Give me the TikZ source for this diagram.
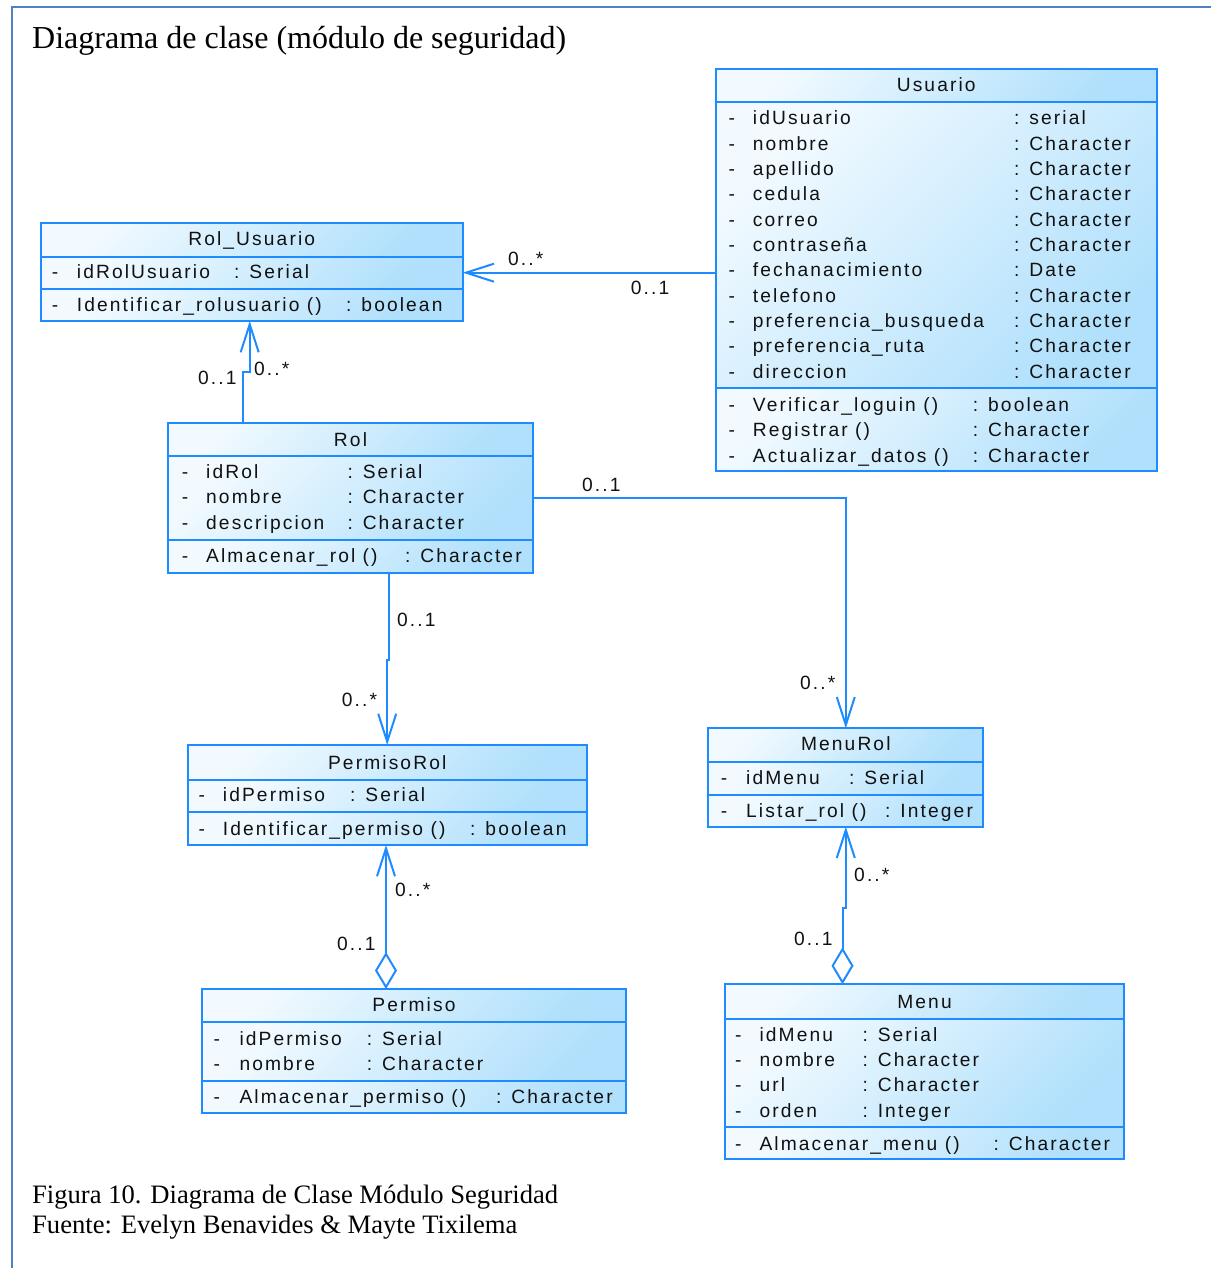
\documentclass[tikz,border=0pt]{standalone}
\usepackage{fontspec}
\setmainfont{Liberation Serif}
\newfontfamily\umlfont[LetterSpace=11]{Liberation Sans}
\usetikzlibrary{arrows.meta,calc,fit}
\definecolor{umlblue}{RGB}{30,140,255}
\definecolor{umlA}{RGB}{242,250,255}
\definecolor{umlB}{RGB}{176,224,252}
\definecolor{umltext}{RGB}{17,17,17}
\definecolor{frameblue}{RGB}{79,129,200}
\tikzset{
  umlframe/.style={draw=umlblue, line width=2pt, inner sep=0pt, outer sep=0pt},
  compart/.style={left color=umlA, right color=umlB, shading angle=45},
  txt/.style={inner sep=0pt, anchor=base west, font=\umlfont\fontsize{19.2}{19.2}\selectfont, text=umltext},
  hdr/.style={txt, anchor=base},
  mult/.style={txt},
  captxt/.style={inner sep=0pt, anchor=base west, text=black},
  conn/.style={draw=umlblue, line width=2pt, -{Straight Barb[length=28pt,width=18pt]}},
  aggr/.style={draw=umlblue, line width=2pt, {Diamond[fill=white,length=37pt,width=22pt]}-{Straight Barb[length=28pt,width=18pt]}},
}
\newcommand\UMLclass[7]{%
  \shade[compart] (#2,#3) rectangle (#4,#6);
  \shade[compart] (#2,#6) rectangle (#4,#7);
  \shade[compart] (#2,#7) rectangle (#4,#5);
  \draw[umlblue, line width=2pt] (#2,#6) -- (#4,#6) (#2,#7) -- (#4,#7);
  \node[umlframe, fit={(#2,#3) (#4,#5)}] (#1) {};
}
\begin{document}
\begin{tikzpicture}[x=1pt,y=-1pt]
\useasboundingbox (0,0) rectangle (1211,1268);
% outer frame
\draw[frameblue, line width=2.5pt] (12,1268) -- (12,7.2) -- (1211,7.2);

% titles
\node[captxt, font=\fontsize{32}{32}\selectfont] (title) at (32,48.5) {Diagrama de clase (módulo de seguridad)};
\node[captxt, font=\fontsize{26.6}{26.6}\selectfont] (cap1) at (32,1203.5) {Figura 10. Diagrama de Clase Módulo Seguridad};
\node[captxt, font=\fontsize{26.6}{26.6}\selectfont] (cap2) at (32,1233.5) {Fuente: Evelyn Benavides \& Mayte Tixilema};

% ---------------- Usuario
\UMLclass{usuario}{715.7}{69.3}{1156.7}{471}{102}{388}
\node[hdr] (usuH) at (936.2,92) {Usuario};
\foreach \n/\t [count=\i from 0] in {idUsuario/serial, nombre/Character, apellido/Character, cedula/Character, correo/Character, contraseña/Character, fechanacimiento/Date, telefono/Character, preferencia\_busqueda/Character, preferencia\_ruta/Character, direccion/Character}{
  \node[txt] (usuD\i) at (728.3,125+25.3*\i) {-};
  \node[txt] (usuN\i) at (752.7,125+25.3*\i) {\n};
  \node[txt] (usuT\i) at (1014,125+25.3*\i) {: \t};
}
\foreach \n/\t [count=\i from 0] in {Verificar\_loguin ()/boolean, Registrar ()/Character, Actualizar\_datos ()/Character}{
  \node[txt] (usuMD\i) at (728.3,411.7+25.2*\i) {-};
  \node[txt] (usuMN\i) at (752.7,411.7+25.2*\i) {\n};
  \node[txt] (usuMT\i) at (972.7,411.7+25.2*\i) {: \t};
}

% ---------------- Rol_Usuario
\UMLclass{rolu}{40.7}{222.7}{462.7}{321}{256.7}{289.3}
\node[hdr] (roluH) at (251.7,245.7) {Rol\_Usuario};
\node[txt] (roluD) at (51.7,278.3) {-};
\node[txt] (roluN) at (76.7,278.3) {idRolUsuario};
\node[txt] (roluT) at (234,278.3) {: Serial};
\node[txt] (roluMD) at (51.7,311) {-};
\node[txt] (roluMN) at (76.7,311) {Identificar\_rolusuario ()};
\node[txt] (roluMT) at (346,311) {: boolean};

% ---------------- Rol
\UMLclass{rol}{168.3}{423.3}{532.7}{572.7}{456}{540}
\node[hdr] (rolH) at (350.5,446) {Rol};
\foreach \n/\t [count=\i from 0] in {idRol/Serial, nombre/Character, descripcion/Character}{
  \node[txt] (rolD\i) at (181.7,478.3+25.5*\i) {-};
  \node[txt] (rolN\i) at (206,478.3+25.5*\i) {\n};
  \node[txt] (rolT\i) at (347.3,478.3+25.5*\i) {: \t};
}
\node[txt] (rolMD) at (181.7,562.7) {-};
\node[txt] (rolMN) at (206,562.7) {Almacenar\_rol ()};
\node[txt] (rolMT) at (405,562.7) {: Character};

% ---------------- PermisoRol
\UMLclass{permrol}{187.7}{745}{586.7}{845}{780}{812.3}
\node[hdr] (permrolH) at (387.2,769.3) {PermisoRol};
\node[txt] (permrolD) at (198.3,801.7) {-};
\node[txt] (permrolN) at (222.7,801.7) {idPermiso};
\node[txt] (permrolT) at (350,801.7) {: Serial};
\node[txt] (permrolMD) at (198.3,835) {-};
\node[txt] (permrolMN) at (222.7,835) {Identificar\_permiso ()};
\node[txt] (permrolMT) at (470,835) {: boolean};

% ---------------- MenuRol
\UMLclass{menurol}{708.3}{728.3}{983.3}{826.7}{761.7}{795}
\node[hdr] (menurolH) at (845.8,750.7) {MenuRol};
\node[txt] (menurolD) at (720.7,784) {-};
\node[txt] (menurolN) at (746,784) {idMenu};
\node[txt] (menurolT) at (849,784) {: Serial};
\node[txt] (menurolMD) at (720.7,817.3) {-};
\node[txt] (menurolMN) at (746,817.3) {Listar\_rol ()};
\node[txt] (menurolMT) at (885,817.3) {: Integer};

% ---------------- Permiso
\UMLclass{perm}{201.7}{989}{626}{1112.7}{1022.3}{1080.7}
\node[hdr] (permH) at (413.9,1011.7) {Permiso};
\foreach \n/\t [count=\i from 0] in {idPermiso/Serial, nombre/Character}{
  \node[txt] (permD\i) at (213.3,1045+25*\i) {-};
  \node[txt] (permN\i) at (239.3,1045+25*\i) {\n};
  \node[txt] (permT\i) at (366.7,1045+25*\i) {: \t};
}
\node[txt] (permMD) at (213.3,1103.3) {-};
\node[txt] (permMN) at (239.3,1103.3) {Almacenar\_permiso ()};
\node[txt] (permMT) at (496,1103.3) {: Character};

% ---------------- Menu
\UMLclass{menu}{725}{984.3}{1124}{1159.3}{1019}{1127.3}
\node[hdr] (menuH) at (924.5,1008.3) {Menu};
\foreach \n/\t [count=\i from 0] in {idMenu/Serial, nombre/Character, url/Character, orden/Integer}{
  \node[txt] (menuD\i) at (735,1041+25.4*\i) {-};
  \node[txt] (menuN\i) at (759.3,1041+25.4*\i) {\n};
  \node[txt] (menuT\i) at (862.3,1041+25.4*\i) {: \t};
}
\node[txt] (menuMD) at (735,1150.7) {-};
\node[txt] (menuMN) at (759.3,1150.7) {Almacenar\_menu ()};
\node[txt] (menuMT) at (993.3,1150.7) {: Character};

% ---------------- connectors
\draw[conn] (usuario.west |- 0,272.7) -- (rolu.east |- 0,272.7);
\node[mult] (m1a) at (508,265) {0..*};
\node[mult] (m1b) at (630.7,294) {0..1};

\coordinate (rA) at ($(rol.north west)+(75,0)$);
\draw[conn] (rA) -- ++(0,-51) -| ($(rolu.south)+(-2,0)$);
\node[mult] (m2a) at (198,384) {0..1};
\node[mult] (m2b) at (254,375.7) {0..*};

\draw[conn] (rol.east) -| (menurol.north);
\node[mult] (m3a) at (582,491) {0..1};
\node[mult] (m3b) at (800,689) {0..*};

\coordinate (rB) at ($(rol.south west)+(221,0)$);
\draw[conn] (rB) -- ++(0,87.3) -| (permrol.north);
\node[mult] (m4a) at (397,626.7) {0..1};
\node[mult] (m4b) at (341.7,706.7) {0..*};

\coordinate (pA) at ($(perm.north west)+(184.3,0)$);
\draw[aggr] (pA) -- (pA |- permrol.south);
\node[mult] (m5a) at (395,896.7) {0..*};
\node[mult] (m5b) at (337,950) {0..1};

\coordinate (mA) at ($(menu.north west)+(117.5,0)$);
\draw[aggr] (mA) -- ++(0,-76.3) -| (menurol.south);
\node[mult] (m6a) at (854,881.7) {0..*};
\node[mult] (m6b) at (794,945) {0..1};
\end{tikzpicture}
\end{document}
